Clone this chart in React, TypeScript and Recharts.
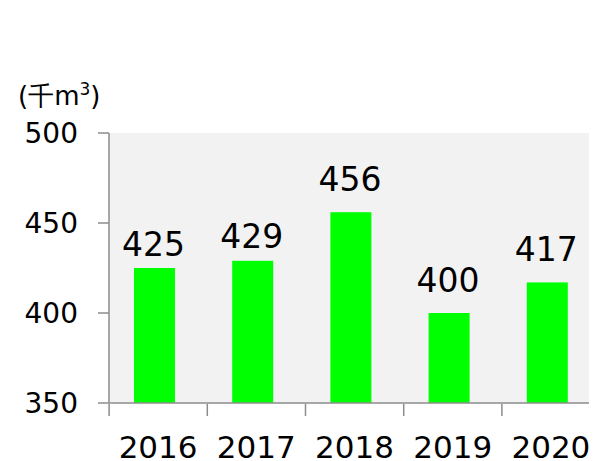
import React from 'react';
import { BarChart, Bar, XAxis, YAxis, CartesianGrid, LabelList } from 'recharts';

const years = ['2016', '2017', '2018', '2019', '2020'];
const waterUse = [425, 429, 456, 400, 417];
const yTicks = [350, 400, 450, 500];
const unitLabel = '(千m';

const data = years.map((y, i) => ({ year: y, value: waterUse[i] }));

const FONT = '"DejaVu Sans", Verdana, sans-serif';
const AXIS = '#8c8c8c';
const HALF_BAND = 49;
const SHIFT = -4;
const LABEL_GAPS = [12, 13, 21, 21, 21];

const BarShape = (props: any) => {
  const { x, y, width, height } = props;
  return <rect x={x + SHIFT} y={y} width={width} height={height} fill="#00ff00" />;
};

const ValueLabel = (props: any) => {
  const { x, y, width, value, index } = props;
  const gap = LABEL_GAPS[index] ?? 12;
  return (
    <text x={x + width / 2 + SHIFT - 1} y={y - gap} textAnchor="middle" fontSize={33} fontFamily={FONT} fill="#000">
      {value}
    </text>
  );
};

const XTick = (props: any) => {
  const { x, y, payload } = props;
  const bx = x - HALF_BAND;
  const ay = y - 7;
  return (
    <g>
      <line x1={bx} y1={ay} x2={bx} y2={ay + 12} stroke={AXIS} strokeWidth={1.5} />
      <text x={x} y={ay + 54} textAnchor="middle" fontSize={31} fontFamily={FONT} fill="#000">
        {payload.value}
      </text>
    </g>
  );
};

const UnitLabel = () => (
  <text x={10} y={97} fontSize={26} fontFamily={FONT} fill="#000">
    {unitLabel}
    <tspan fontSize={17} dy={-10}>3</tspan>
    <tspan dy={10}>)</tspan>
  </text>
);

export default function App() {
  return (
    <div style={{ width: 589, height: 453, overflow: 'hidden' }}>
      <BarChart
        width={592}
        height={453}
        data={data}
        margin={{ top: 125, right: 0, bottom: 0, left: 0 }}
        barCategoryGap={0}
      >
        <CartesianGrid fill="#f2f2f2" stroke="none" horizontal={false} vertical={false} />
        <XAxis
          dataKey="year"
          height={58}
          axisLine={{ stroke: AXIS, strokeWidth: 1.5 }}
          tickLine={false}
          tick={<XTick />}
          interval={0}
        />
        <YAxis
          width={101}
          domain={[350, 500]}
          ticks={yTicks}
          allowDataOverflow
          axisLine={{ stroke: AXIS, strokeWidth: 1.5 }}
          tickLine={{ stroke: AXIS, strokeWidth: 1.5 }}
          tickSize={11}
          tickMargin={20}
          tick={{ fontSize: 28, fontFamily: FONT, fill: '#000' }}
          label={<UnitLabel />}
        />
        <Bar dataKey="value" barSize={41} shape={<BarShape />} isAnimationActive={false}>
          <LabelList dataKey="value" content={<ValueLabel />} />
        </Bar>
      </BarChart>
    </div>
  );
}
